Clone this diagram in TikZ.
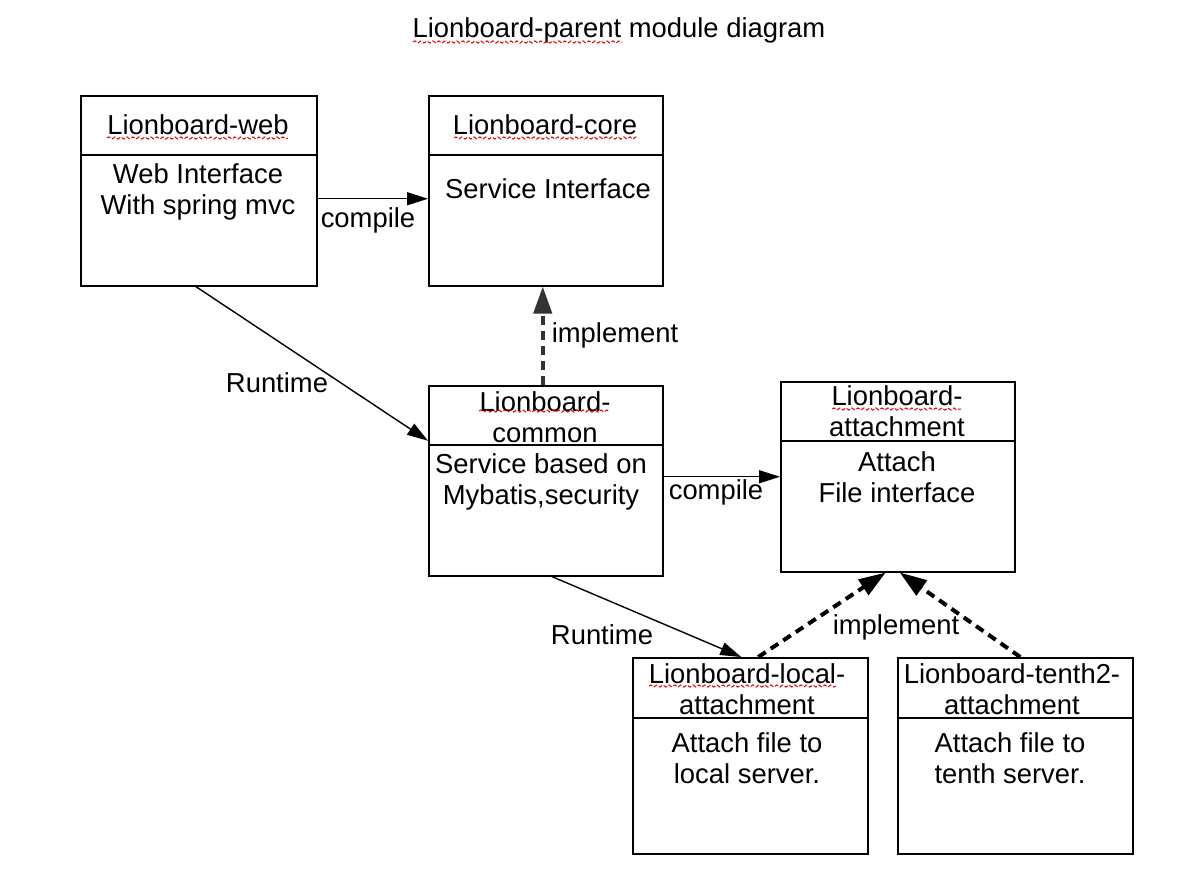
\documentclass[tikz,border=0pt]{standalone}
\usepackage{fontspec}
\setmainfont{Liberation Sans}
\usetikzlibrary{arrows.meta,decorations.pathmorphing}
\begin{document}
\begin{tikzpicture}[x=1pt,y=-1pt,
  every node/.style={font=\fontsize{27.4}{30.5}\selectfont, inner sep=0pt},
  box/.style={draw, line width=1.5pt, rectangle, anchor=north west},
  lbl/.style={align=center},
  arr/.style={-{Triangle[length=21pt,width=13pt]}, line width=1.4pt},
  darr/.style={-{Triangle[length=27pt,width=18pt]}, line width=4pt, dash pattern=on 9pt off 6pt},
  squig/.style={red!90!black, line width=1pt, dash pattern=on 4pt off 2pt, decorate, decoration={snake, amplitude=1.1pt, segment length=6pt}}
]
\useasboundingbox (0,0) rectangle (1202,894);

% title
\node (title) at (619,30) {Lionboard-parent module diagram};
\draw[squig] (413,42) -- (622,42);

% boxes
\node[box, minimum width=236pt, minimum height=190pt] (web) at (80,95) {};
\node[box, minimum width=234pt, minimum height=190pt] (core) at (428,95) {};
\node[box, minimum width=234pt, minimum height=190pt] (common) at (428,385) {};
\node[box, minimum width=234pt, minimum height=190pt] (attach) at (780,381) {};
\node[box, minimum width=235pt, minimum height=196pt] (local) at (632,657) {};
\node[box, minimum width=235pt, minimum height=196pt] (tenth) at (897,657) {};

% dividers
\draw[line width=1.5pt] (80,155) -- (316,155);
\draw[line width=1.5pt] (428,155) -- (662,155);
\draw[line width=1.5pt] (428,445) -- (662,445);
\draw[line width=1.5pt] (780,441) -- (1014,441);
\draw[line width=1.5pt] (632,718) -- (867,718);
\draw[line width=1.5pt] (897,718) -- (1132,718);

% box texts
\node[lbl] (webT) at (198,125) {Lionboard-web};
\node[lbl] (webB) at (198,192) {Web Interface\\With spring mvc};
\node[lbl] (coreT) at (545,125) {Lionboard-core};
\node[lbl] (coreB) at (548,189) {Service Interface};
\node[lbl] (commonT) at (545,417) {Lionboard-\\common};
\node[lbl] (commonB) at (541,482) {Service based on\\Mybatis,security};
\node[lbl] (attachT) at (897,411) {Lionboard-\\attachment};
\node[lbl] (attachB) at (897,477) {Attach\\File interface};
\node[lbl] (localT) at (747,689) {Lionboard-local-\\attachment};
\node[lbl] (localB) at (747,758) {Attach file to\\local server.};
\node[lbl] (tenthT) at (1012,689) {Lionboard-tenth2-\\attachment};
\node[lbl] (tenthB) at (1010,758) {Attach file to\\tenth server.};

% spell-check squiggles
\draw[squig] (107,138) -- (288,138);
\draw[squig] (454,138) -- (638,138);
\draw[squig] (479,411) -- (610,411);
\draw[squig] (832,409) -- (961,409);
\draw[squig] (649,686) -- (836,686);

% connector labels
\node (compile1) at (368,220) {compile};
\node (impl1) at (615,335) {implement};
\node (run1) at (277,383) {Runtime};
\node (compile2) at (716,492) {compile};
\node (run2) at (602,635) {Runtime};
\node (impl2) at (896,627) {implement};

% connectors
\draw[arr] ([yshift=-8pt]web.east) -- ([yshift=-8pt]core.west);
\draw[arr] ([xshift=-3pt]web.south) -- ([yshift=40pt]common.west);
\draw[darr, black!80] ([xshift=-3pt]common.north) -- ([xshift=-3pt]core.south);
\draw[arr] ([yshift=4pt]common.east) -- (attach.west);
\draw[arr] ([xshift=6pt]common.south) -- ([xshift=-9pt]local.north);
\draw[darr] ([xshift=8pt]local.north) -- ([xshift=-12pt]attach.south);
\draw[darr] ([xshift=5pt]tenth.north) -- ([xshift=2pt]attach.south);
\end{tikzpicture}
\end{document}
